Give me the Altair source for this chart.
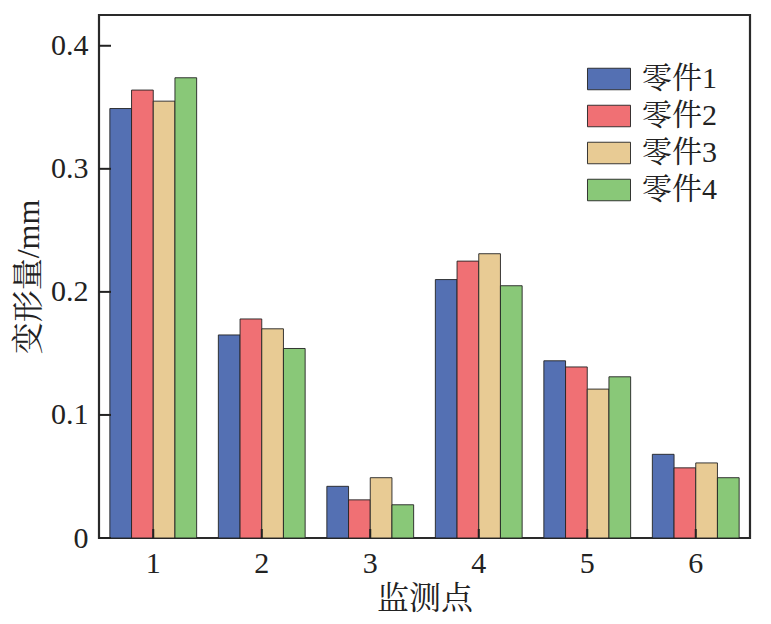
import altair as alt
import pandas as pd

points = ["1", "2", "3", "4", "5", "6"]
series = ["零件1", "零件2", "零件3", "零件4"]
part1 = [0.349, 0.165, 0.042, 0.210, 0.144, 0.068]
part2 = [0.364, 0.178, 0.031, 0.225, 0.139, 0.057]
part3 = [0.355, 0.170, 0.049, 0.231, 0.121, 0.061]
part4 = [0.374, 0.154, 0.027, 0.205, 0.131, 0.049]
colors = ["#5470b3", "#f07074", "#e8cb94", "#89c878"]
y_ticks = [0, 0.1, 0.2, 0.3, 0.4]

rows = []
for s, vals in zip(series, [part1, part2, part3, part4]):
    for p, v in zip(points, vals):
        rows.append({"point": p, "part": s, "value": v})
df = pd.DataFrame(rows)
tick_df = pd.DataFrame({"t": y_ticks})
pt_df = pd.DataFrame({"point": points})

FONT = "Liberation Serif, Noto Serif CJK SC, Noto Sans CJK SC"
W, H = 651, 523

x_scale = alt.Scale(domain=points, paddingInner=0.2, paddingOuter=0.1)
y_scale = alt.Scale(domain=[0, 0.425], nice=False)

bars = alt.Chart(df).mark_bar(stroke="#222222", strokeWidth=0.9).encode(
    x=alt.X("point:N", scale=x_scale, sort=points,
            axis=alt.Axis(title="监测点", labelAngle=0, ticks=False, domain=False,
                          labelPadding=10, titlePadding=5)),
    xOffset=alt.XOffset("part:N", sort=series),
    y=alt.Y("value:Q", scale=y_scale,
            axis=alt.Axis(title="变形量/mm", values=y_ticks, ticks=False, domain=False,
                          labelPadding=11, titlePadding=5,
                          labelExpr="datum.value == 0 ? '0' : format(datum.value, '.1f')")),
    color=alt.Color("part:N", sort=series,
                    scale=alt.Scale(domain=series, range=colors),
                    legend=alt.Legend(title=None, orient="none", legendX=488, legendY=42,
                                      symbolType="M-1,-0.5H1V0.5H-1Z", symbolSize=1850,
                                      symbolStrokeColor="#222222", symbolStrokeWidth=0.9,
                                      labelFontSize=30, labelFont=FONT, labelColor="#222",
                                      labelOffset=11, rowPadding=-8, padding=0)),
)

ytick_marks = alt.Chart(tick_df).mark_rule(color="#222", strokeWidth=2).encode(
    y=alt.Y("t:Q", scale=y_scale),
    x=alt.value(0), x2=alt.value(12),
)

xtick_marks = alt.Chart(pt_df).mark_rule(color="#222", strokeWidth=2).encode(
    x=alt.X("point:N", scale=x_scale, sort=points, bandPosition=0.5),
    y=alt.value(H), y2=alt.value(H - 9),
)

chart = alt.layer(bars, ytick_marks, xtick_marks).properties(
    width=W, height=H,
    autosize=alt.AutoSizeParams(type="none"),
    padding={"left": 91, "top": 7, "right": 10, "bottom": 78},
).configure_view(
    stroke="#2a2a2a", strokeWidth=2.2,
).configure_axis(
    labelFont=FONT, titleFont=FONT, labelFontSize=30, titleFontSize=32,
    labelColor="#222", titleColor="#222", titleFontWeight="normal", grid=False,
)

chart.save("out.html", embed_options={"renderer": "svg", "actions": False})
